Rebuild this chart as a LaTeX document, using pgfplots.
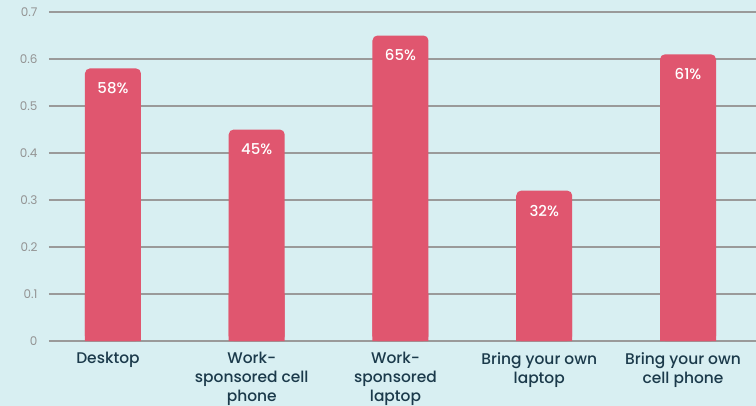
\documentclass[border=0pt]{standalone}
\usepackage{fontspec}
\setmainfont{Poppins}
\newfontfamily\medfont{Poppins Medium}
\usepackage{pgfplots}
\pgfplotsset{compat=1.18}
\definecolor{bgcol}{HTML}{D8EFF2}
\definecolor{barcol}{HTML}{E0566F}
\definecolor{gridcol}{HTML}{9A9A9A}
\definecolor{ytickcol}{HTML}{939393}
\definecolor{xtickcol}{HTML}{1B3A4B}
\begin{document}
\begin{tikzpicture}
\fill[bgcol] (-49bp,-65bp) rectangle (707bp,341bp);
\begin{axis}[
  scale only axis,
  width=707bp, height=329bp,
  xmin=-0.445, xmax=4.473,
  ymin=0, ymax=0.7,
  axis line style={draw=none},
  ymajorgrids,
  grid style={gridcol, line width=1.2bp},
  ytick={0,0.1,...,0.7},
  xtick={0,1,2,3,4},
  xticklabels={Desktop, {Work-\\sponsored cell\\phone}, {Work-\\sponsored\\laptop}, {Bring your own\\laptop}, {Bring your own\\cell phone}},
  xticklabel style={align=center, text=xtickcol, font=\medfont\fontsize{15.5}{19}\selectfont, yshift=-8bp, xshift=-5bp},
  yticklabel style={text=ytickcol, font=\fontsize{12}{14}\selectfont, xshift=-8bp},
  yticklabel={\pgfmathprintnumber[fixed, precision=1]{\tick}},
  /pgf/number format/assume math mode=true,
  major tick length=0pt,
  clip=false,
  ybar, bar width=56bp, bar shift=0pt,
]
\addplot[fill=barcol, draw=none, rounded corners=5bp,
  nodes near coords, point meta=explicit symbolic,
  every node near coord/.style={anchor=center, yshift=-20bp, text=white, font=\medfont\fontsize{15}{17}\selectfont}]
  coordinates {(0,0.58) [58\%] (1,0.45) [45\%] (2,0.65) [65\%] (3,0.32) [32\%] (4,0.61) [61\%]};
\addplot[fill=barcol, draw=none]
  coordinates {(0,0.1) (1,0.1) (2,0.1) (3,0.1) (4,0.1)};
\end{axis}
\pgfresetboundingbox
\path (-49bp,-65bp) rectangle (707bp,341bp);
\end{tikzpicture}
\end{document}
